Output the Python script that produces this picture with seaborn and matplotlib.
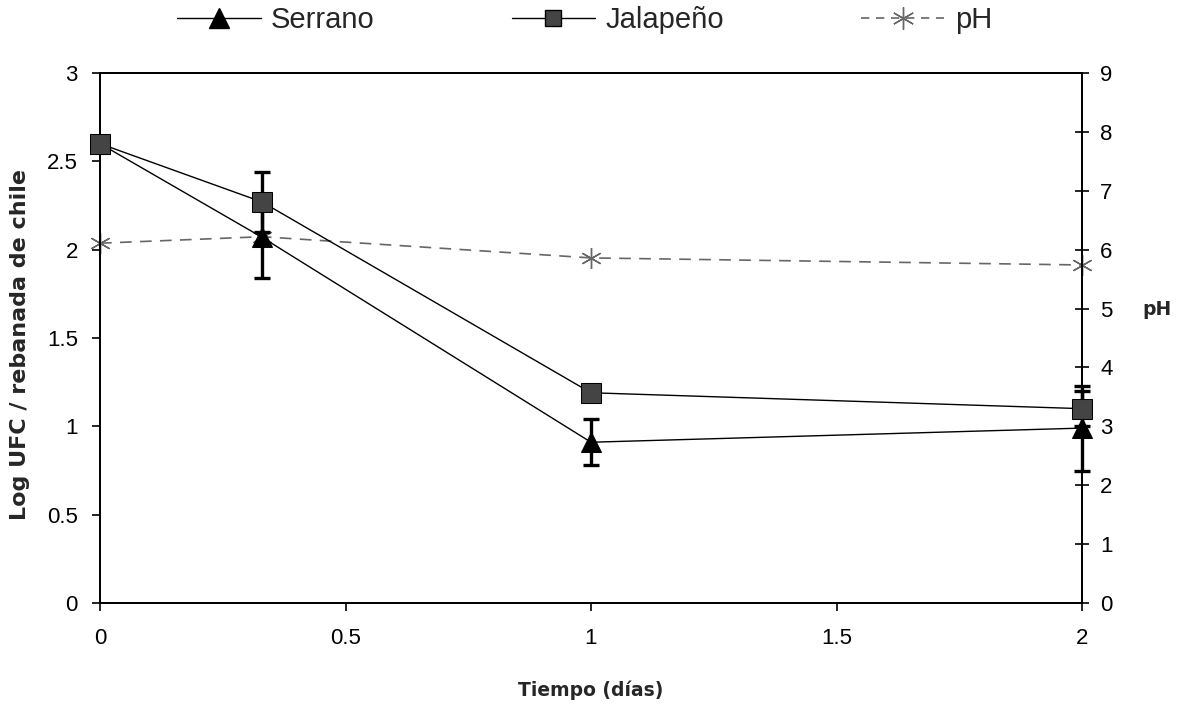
import matplotlib
matplotlib.use("Agg")
import matplotlib.pyplot as plt
import seaborn as sns
import pandas as pd
from matplotlib.lines import Line2D

# Data
tiempo = [0, 0.33, 1, 2]
serrano = [2.60, 2.07, 0.91, 0.99]
serrano_err = [0.0, 0.23, 0.13, 0.24]
jalapeno = [2.60, 2.27, 1.19, 1.10]
jalapeno_err = [0.0, 0.17, 0.04, 0.10]
ph = [6.11, 6.22, 5.86, 5.74]

x_ticks = [0, 0.5, 1, 1.5, 2]
x_ticklabels = ["0", "0.5", "1", "1.5", "2"]
y_ticks = [0, 0.5, 1, 1.5, 2, 2.5, 3]
y_ticklabels = ["0", "0.5", "1", "1.5", "2", "2.5", "3"]
y2_ticks = list(range(0, 10))

sns.set_theme(style="white")
plt.rcParams['font.family'] = ['Liberation Sans', 'DejaVu Sans']

fig = plt.figure(figsize=(11.78, 7.06), dpi=100)
ax = fig.add_axes([100/1178, 1-603/706, (1082-100)/1178, (603-73)/706])
ax2 = ax.twinx()

df = pd.DataFrame({"t": tiempo, "s": serrano, "j": jalapeno, "ph": ph})

ph_color = "#666666"
# pH on right axis
sns.lineplot(data=df, x="t", y="ph", ax=ax2, color=ph_color, linestyle=(0, (7, 5)),
             linewidth=1.2, marker=(6, 2, 0), markersize=15, markeredgewidth=1.0,
             markeredgecolor=ph_color, zorder=1, clip_on=False)

ax.errorbar(tiempo, jalapeno, yerr=jalapeno_err, fmt="none", ecolor="black",
            elinewidth=2.4, capsize=6, capthick=2.4, zorder=3, clip_on=False)
ax.errorbar(tiempo, serrano, yerr=serrano_err, fmt="none", ecolor="black",
            elinewidth=2.4, capsize=6, capthick=2.4, zorder=3, clip_on=False)

sns.lineplot(data=df, x="t", y="s", ax=ax, color="black", linewidth=1.0,
             marker="^", markersize=14, markeredgecolor="black",
             markerfacecolor="black", zorder=4, clip_on=False)
sns.lineplot(data=df, x="t", y="j", ax=ax, color="black", linewidth=1.0,
             marker="s", markersize=14, markeredgecolor="black",
             markerfacecolor="#444444", zorder=4, clip_on=False)

ax.set_zorder(ax2.get_zorder() + 1)
ax.patch.set_visible(False)

ax.set_xlim(0, 2)
ax.set_ylim(0, 3)
ax2.set_ylim(0, 9)
ax.set_xticks(x_ticks)
ax.set_xticklabels(x_ticklabels)
ax.set_yticks(y_ticks)
ax.set_yticklabels(y_ticklabels)
ax2.set_yticks(y2_ticks)

for a in (ax, ax2):
    for sp in a.spines.values():
        sp.set_color("black")
        sp.set_linewidth(1.3)

ax.tick_params(axis="both", direction="out", length=6, width=1.2, colors="black",
               labelsize=16, left=True, bottom=True)
ax.tick_params(axis="y", pad=10)
ax.tick_params(axis="x", pad=12)
ax2.tick_params(axis="y", direction="inout", length=10, width=1.2, colors="black",
                labelsize=16, right=True, pad=8)

lab_font = dict(family="DejaVu Sans", fontweight="bold")
ax.set_xlabel("Tiempo (días)", fontsize=13.5, va="center", **lab_font)
ax.xaxis.set_label_coords(0.5, -0.164)
ax.set_ylabel("Log UFC / rebanada de chile", fontsize=16, va="center", **lab_font)
ax.yaxis.set_label_coords(-0.0815, 0.487)
ax2.set_ylabel("pH", fontsize=13.5, rotation=0, va="center", ha="center", **lab_font)
ax2.yaxis.set_label_coords(1.076, 0.553)
ax.grid(False)
ax2.grid(False)

handles = [
    Line2D([], [], color="black", linewidth=1.0, marker="^", markersize=15,
           markerfacecolor="black", markeredgecolor="black"),
    Line2D([], [], color="black", linewidth=1.0, marker="s", markersize=12,
           markerfacecolor="#444444", markeredgecolor="black"),
    Line2D([], [], color=ph_color, linewidth=1.2, linestyle=(0, (5, 4)),
           marker=(6, 2, 0), markersize=16, markeredgecolor=ph_color),
]
fig.legend(handles, ["Serrano", "Jalapeño", "pH"], loc="center",
           bbox_to_anchor=(584.5/1178, 1-20/706), ncol=3, frameon=False, fontsize=21,
           handlelength=2.86, columnspacing=4.7, handletextpad=0.35,
           borderpad=0, borderaxespad=0)

fig.savefig("out.png", dpi=100)
